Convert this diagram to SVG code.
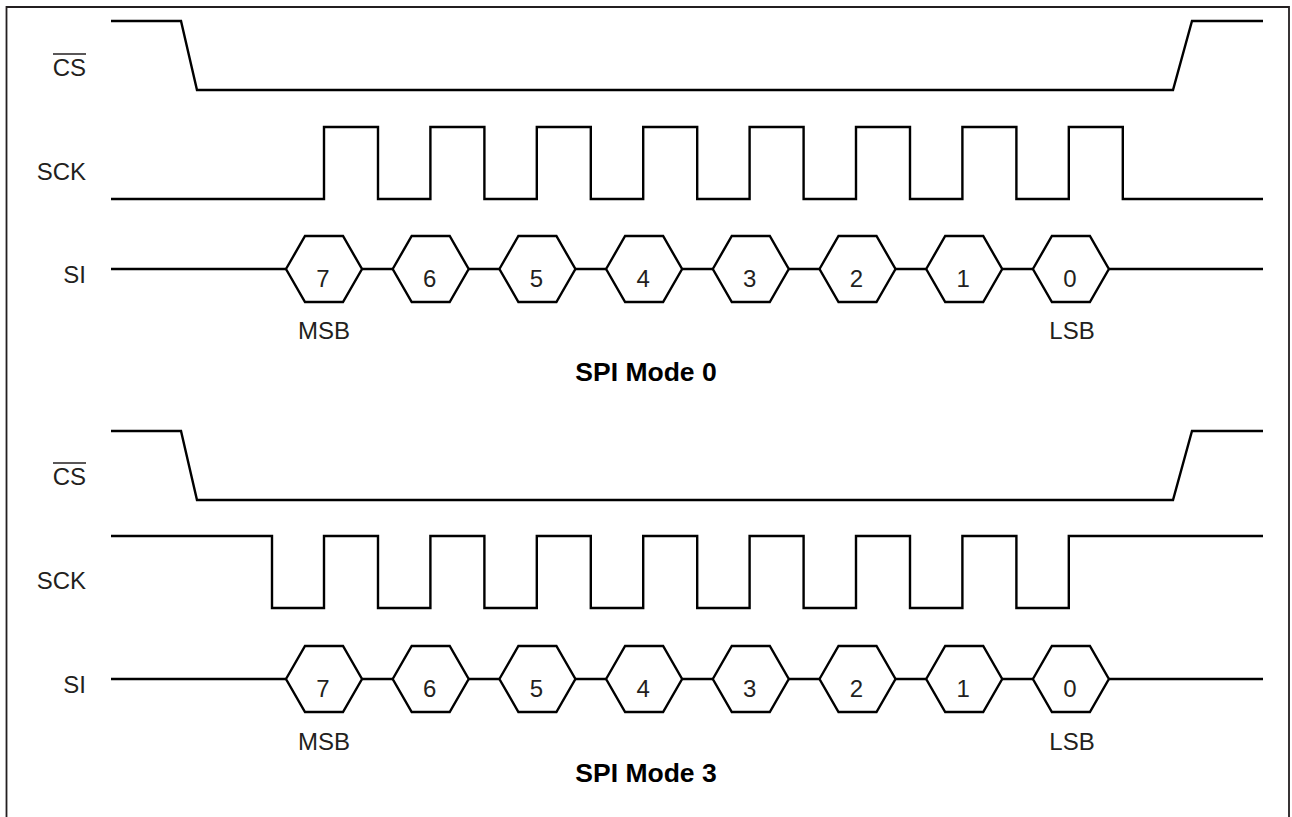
<svg xmlns="http://www.w3.org/2000/svg" width="1292" height="817" viewBox="0 0 1292 817">
<defs>
<style>
.sig{fill:none;stroke:#000;stroke-width:2.4;stroke-linejoin:miter;stroke-linecap:butt}
.lbl{font-family:"Liberation Sans",Arial,sans-serif;font-size:24px;fill:#231f20}
.end{text-anchor:end}
.mid{text-anchor:middle}
.ttl{font-family:"Liberation Sans",Arial,sans-serif;font-size:26.5px;font-weight:bold;fill:#000;text-anchor:middle}
.frame{fill:none;stroke:#231f20;stroke-width:1.8}
</style>
<polygon id="hex" class="sig" points="-38,0 -19,-33 19,-33 38,0 19,33 -19,33"/>
</defs>
<rect width="1292" height="817" fill="#fff"/>
<path class="frame" d="M6.5,830 V7 H1289 V830"/>

<g id="mode0">
  <g id="cs0">
    <text class="lbl end" x="86" y="76">CS</text>
    <line x1="53" y1="54" x2="86" y2="54" stroke="#231f20" stroke-width="1.6"/>
    <path class="sig" d="M111,21 H181 L197,90 H1173 L1192,21 H1263"/>
  </g>
  <g id="sck0">
    <text class="lbl end" x="86" y="180">SCK</text>
    <path class="sig" d="M111,199 H324 V127 H378 V199 H430.4 V127 H484.4 V199 H536.8 V127 H590.8 V199 H643.2 V127 H697.2 V199 H749.6 V127 H803.6 V199 H856 V127 H910 V199 H962.4 V127 H1016.4 V199 H1068.8 V127 H1122.8 V199 H1263"/>
  </g>
  <g id="si0">
    <text class="lbl end" x="86" y="283">SI</text>
    <path class="sig" d="M111,269 H286 M362,269 H392.7 M468.7,269 H499.4 M575.4,269 H606.1 M682.1,269 H712.8 M788.8,269 H819.5 M895.5,269 H926.2 M1002.2,269 H1032.9 M1108.9,269 H1263"/>
    <g class="lbl mid">
      <use href="#hex" x="324" y="269"/><text x="323" y="287">7</text>
      <use href="#hex" x="430.7" y="269"/><text x="429.7" y="287">6</text>
      <use href="#hex" x="537.4" y="269"/><text x="536.4" y="287">5</text>
      <use href="#hex" x="644.1" y="269"/><text x="643.1" y="287">4</text>
      <use href="#hex" x="750.8" y="269"/><text x="749.8" y="287">3</text>
      <use href="#hex" x="857.5" y="269"/><text x="856.5" y="287">2</text>
      <use href="#hex" x="964.2" y="269"/><text x="963.2" y="287">1</text>
      <use href="#hex" x="1070.9" y="269"/><text x="1069.9" y="287">0</text>
    </g>
    <text class="lbl mid" x="324" y="339">MSB</text>
    <text class="lbl mid" x="1072" y="339">LSB</text>
  </g>
  <text class="ttl" x="646" y="381">SPI Mode 0</text>
</g>

<g id="mode3">
  <g id="cs3">
    <text class="lbl end" x="86" y="485">CS</text>
    <line x1="53" y1="463" x2="86" y2="463" stroke="#231f20" stroke-width="1.6"/>
    <path class="sig" d="M111,431 H181 L197,500 H1173 L1192,431 H1263"/>
  </g>
  <g id="sck3">
    <text class="lbl end" x="86" y="589">SCK</text>
    <path class="sig" d="M111,536 H272 V608 H324 V536 H378 V608 H430.4 V536 H484.4 V608 H536.8 V536 H590.8 V608 H643.2 V536 H697.2 V608 H749.6 V536 H803.6 V608 H856 V536 H910 V608 H962.4 V536 H1016.4 V608 H1068.8 V536 H1263"/>
  </g>
  <g id="si3">
    <text class="lbl end" x="86" y="693">SI</text>
    <path class="sig" d="M111,679 H286 M362,679 H392.7 M468.7,679 H499.4 M575.4,679 H606.1 M682.1,679 H712.8 M788.8,679 H819.5 M895.5,679 H926.2 M1002.2,679 H1032.9 M1108.9,679 H1263"/>
    <g class="lbl mid">
      <use href="#hex" x="324" y="679"/><text x="323" y="697">7</text>
      <use href="#hex" x="430.7" y="679"/><text x="429.7" y="697">6</text>
      <use href="#hex" x="537.4" y="679"/><text x="536.4" y="697">5</text>
      <use href="#hex" x="644.1" y="679"/><text x="643.1" y="697">4</text>
      <use href="#hex" x="750.8" y="679"/><text x="749.8" y="697">3</text>
      <use href="#hex" x="857.5" y="679"/><text x="856.5" y="697">2</text>
      <use href="#hex" x="964.2" y="679"/><text x="963.2" y="697">1</text>
      <use href="#hex" x="1070.9" y="679"/><text x="1069.9" y="697">0</text>
    </g>
    <text class="lbl mid" x="324" y="750">MSB</text>
    <text class="lbl mid" x="1072" y="750">LSB</text>
  </g>
  <text class="ttl" x="646" y="782">SPI Mode 3</text>
</g>
</svg>
